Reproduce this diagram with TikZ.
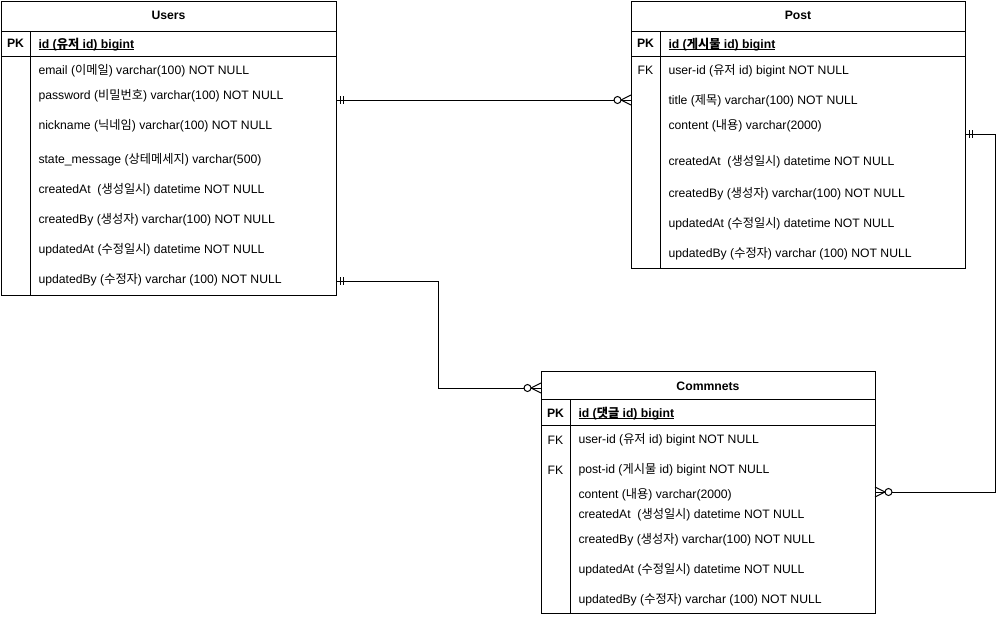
\documentclass[tikz,border=0pt]{standalone}
\usepackage{fontspec}
\setmainfont{Liberation Sans}
\newfontfamily\krfont{Noto Sans CJK KR}[Scale=1.0]
\newcommand{\K}[1]{{\krfont #1}}
\newcommand{\pkline}[1]{\setbox0=\hbox{#1}\rlap{\rule[-1.8pt]{\wd0}{0.9pt}}\box0}
\begin{document}
\begin{tikzpicture}[x=1pt,y=-1pt,line width=1pt,
  font=\fontsize{12.2}{14}\selectfont,
  tablebox/.style={draw,anchor=north west,inner sep=0pt,outer sep=0pt},
  fld/.style={anchor=west,inner sep=0pt,yshift=-0.8pt},
  keylbl/.style={anchor=center,inner sep=0pt,yshift=-0.8pt},
  ttl/.style={anchor=center,inner sep=0pt,yshift=-0.8pt,font=\fontsize{12.2}{14}\selectfont\bfseries},
  bf/.style={font=\fontsize{12.2}{14}\selectfont\bfseries},
  mandone/.pic={\draw (4,-4) -- (4,4) (7,-4) -- (7,4);},
  zeromany/.pic={\draw (0,-5) -- (10,0) -- (0,5); \draw[fill=white] (13.5,0) circle[radius=3.5pt];}]
\useasboundingbox (0,0) rectangle (1006,616);

% ---------- Users ----------
\node[tablebox,minimum width=335pt,minimum height=294pt] (users) at (1,1) {};
\draw (1,31) -- (336,31) (1,56) -- (336,56) (30,31) -- (30,295);
\node[ttl] (u-t) at (168.5,15) {Users};
\node[keylbl,bf] (u-pk) at (15.5,43) {PK};
\node[fld,bf,anchor=base west] (u-id) at (38,47.5) {\pkline{id (\K{유저} id) bigint}};
\node[fld] (u-1) at (38,70) {email (\K{이메일}) varchar(100) NOT NULL};
\node[fld] (u-2) at (38,95) {password (\K{비밀번호}) varchar(100) NOT NULL};
\node[fld] (u-3) at (38,125) {nickname (\K{닉네임}) varchar(100) NOT NULL};
\node[fld] (u-4) at (38,159) {state\_message (\K{상테메세지}) varchar(500)};
\node[fld] (u-5) at (38,189) {createdAt\ \ (\K{생성일시}) datetime NOT NULL};
\node[fld] (u-6) at (38,219) {createdBy (\K{생성자}) varchar(100) NOT NULL};
\node[fld] (u-7) at (38,249) {updatedAt (\K{수정일시}) datetime NOT NULL};
\node[fld] (u-8) at (38,279) {updatedBy (\K{수정자}) varchar (100) NOT NULL};

% ---------- Post ----------
\node[tablebox,minimum width=334pt,minimum height=267pt] (post) at (631,1) {};
\draw (631,31) -- (965,31) (631,56) -- (965,56) (660,31) -- (660,268);
\node[ttl] (p-t) at (798,15) {Post};
\node[keylbl,bf] (p-pk) at (645.5,43) {PK};
\node[fld,bf,anchor=base west] (p-id) at (668,47.5) {\pkline{id (\K{게시물} id) bigint}};
\node[keylbl] (p-fk) at (645.5,70) {FK};
\node[fld] (p-1) at (668,70) {user-id (\K{유저} id) bigint NOT NULL};
\node[fld] (p-2) at (668,100) {title (\K{제목}) varchar(100) NOT NULL};
\node[fld] (p-3) at (668,125) {content (\K{내용}) varchar(2000)};
\node[fld] (p-4) at (668,161) {createdAt\ \ (\K{생성일시}) datetime NOT NULL};
\node[fld] (p-5) at (668,193) {createdBy (\K{생성자}) varchar(100) NOT NULL};
\node[fld] (p-6) at (668,223) {updatedAt (\K{수정일시}) datetime NOT NULL};
\node[fld] (p-7) at (668,253) {updatedBy (\K{수정자}) varchar (100) NOT NULL};

% ---------- Commnets ----------
\node[tablebox,minimum width=334pt,minimum height=242pt] (comm) at (541,371) {};
\draw (541,399) -- (875,399) (541,425) -- (875,425) (570,399) -- (570,613);
\node[ttl] (c-t) at (708,385) {Commnets};
\node[keylbl,bf] (c-pk) at (555.5,412) {PK};
\node[fld,bf,anchor=base west] (c-id) at (578,416.5) {\pkline{id (\K{댓글} id) bigint}};
\node[keylbl] (c-fk1) at (555.5,439) {FK};
\node[fld] (c-1) at (578,439) {user-id (\K{유저} id) bigint NOT NULL};
\node[keylbl] (c-fk2) at (555.5,469) {FK};
\node[fld] (c-2) at (578,469) {post-id (\K{게시물} id) bigint NOT NULL};
\node[fld] (c-3) at (578,494) {content (\K{내용}) varchar(2000)};
\node[fld] (c-4) at (578,514) {createdAt\ \ (\K{생성일시}) datetime NOT NULL};
\node[fld] (c-5) at (578,539) {createdBy (\K{생성자}) varchar(100) NOT NULL};
\node[fld] (c-6) at (578,569) {updatedAt (\K{수정일시}) datetime NOT NULL};
\node[fld] (c-7) at (578,599) {updatedBy (\K{수정자}) varchar (100) NOT NULL};

% ---------- Connectors ----------
\coordinate (c1a) at (users.east |- 0,100);
\coordinate (c1b) at (post.west |- 0,100);
\draw (c1a) -- (c1b);
\pic at (c1a) {mandone};
\pic[rotate=180] at (c1b) {zeromany};

\coordinate (c2a) at (users.east |- 0,281);
\coordinate (c2b) at (comm.west |- 0,388);
\draw (c2a) -| (438,388) -- (c2b);
\pic at (c2a) {mandone};
\pic[rotate=180] at (c2b) {zeromany};

\coordinate (c3a) at (post.east |- 0,134);
\coordinate (c3b) at (comm.east |- 0,492);
\draw (c3a) -| (995,492) -- (c3b);
\pic at (c3a) {mandone};
\pic at (c3b) {zeromany};
\end{tikzpicture}
\end{document}
